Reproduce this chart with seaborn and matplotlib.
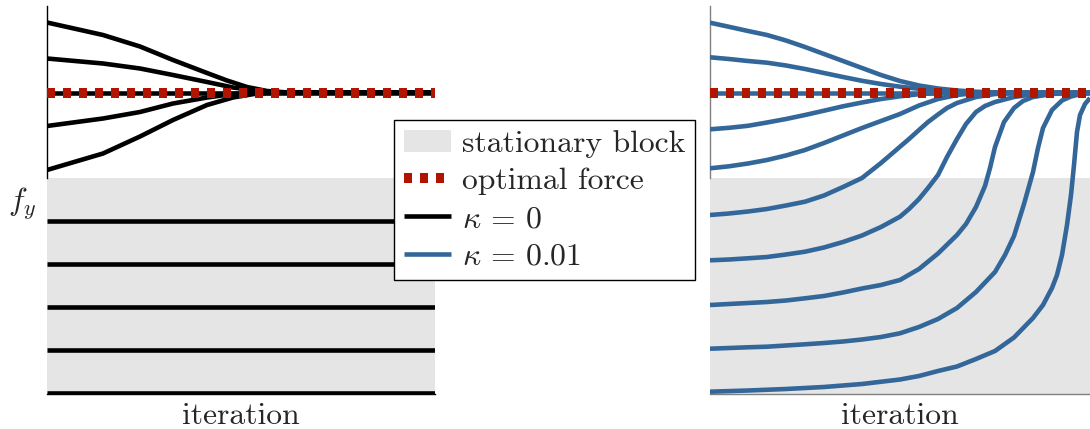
import numpy as np
import pandas as pd
import seaborn as sns
import matplotlib
matplotlib.use("Agg")
import matplotlib.pyplot as plt
from matplotlib.patches import Patch
from matplotlib.lines import Line2D

# ---------------- data (iteration, force) ----------------
optimal_force = 300.5
stationary_limit = 215.0

# left panel: kappa = 0
left_x_end = 388
left_top_x = [
    [0, 56, 93, 126, 160, 180, 200, 220, 240, 388],
    [0, 56, 93, 126, 160, 186, 210, 230, 388],
    [0, 388],
    [0, 56, 93, 126, 160, 186, 210, 230, 388],
    [0, 56, 93, 126, 160, 186, 210, 230, 388],
]
left_top_y = [
    [370.5, 358, 346.5, 333, 320, 312.5, 306, 302, 300.5, 300.5],
    [334.5, 329.5, 324.5, 318, 311, 305.5, 302.5, 300.8, 300.5],
    [300.5, 300.5],
    [267, 274.5, 281, 289.5, 295.5, 299, 300.3, 300.5, 300.5],
    [223, 239.5, 256.5, 273, 288, 295.5, 299.5, 300.5, 300.5],
]
left_stationary_y = [172, 129, 86, 43, 0]

# right panel: kappa = 0.01
right_x_end = 380
g16 = [0, 19, 38, 57, 76, 95, 114, 133, 152, 171, 190, 209, 228, 247, 266, 285]
right_x = [
    g16 + [380],
    g16 + [380],
    [0, 380],
    g16[:14] + [380],
    g16 + [380],
    [0, 19, 38, 57, 76, 95, 114, 133, 152, 171, 190, 199, 209, 218, 228, 237, 247, 266, 285, 304, 323, 380],
    [0, 19, 38, 57, 76, 95, 114, 133, 152, 171, 190, 199, 209, 218, 228, 237, 247, 256, 266, 275, 285, 304, 323, 342, 361, 380],
    [0, 19, 38, 57, 76, 95, 114, 133, 152, 171, 190, 209, 228, 247, 256, 266, 275, 280, 285, 294, 304, 313, 323, 342, 361, 380],
    [0, 19, 38, 57, 76, 95, 114, 133, 152, 171, 190, 209, 228, 247, 266, 285, 295, 304, 314, 323, 328, 333, 342, 352, 361, 371, 380],
    [0, 38, 76, 114, 152, 190, 209, 228, 247, 266, 285, 304, 323, 333, 342, 347, 352, 357, 361, 364, 367, 370, 375, 380],
]
right_y = [
    [370.3, 366.2, 362, 358, 352.5, 346, 339, 332, 325, 318, 312, 307.5, 304.5, 302.5, 301.2, 300.7, 300.5],
    [335.7, 334, 332, 330.3, 327.5, 324, 320, 316, 312.2, 309, 306.3, 304.2, 302.7, 301.5, 300.8, 300.5, 300.5],
    [300.5, 300.5],
    [263.7, 265.2, 267.2, 270.5, 274, 278, 282.3, 286.7, 290.5, 294, 296.7, 298.8, 300, 300.4, 300.5],
    [224.7, 226.7, 229.5, 233, 237.5, 243, 250, 257.5, 265, 272, 279, 287.5, 294, 298, 300, 300.5, 300.5],
    [178, 179.5, 181.5, 184, 187.5, 191.3, 197.5, 206, 215, 230, 246.3, 254, 263, 271, 278.5, 285, 290, 296, 299, 300, 300.5, 300.5],
    [132.7, 133.5, 134.7, 136, 138.5, 141.3, 145.5, 151, 157.5, 166, 176.3, 184, 194, 205, 218, 236, 254, 269, 281, 287, 291, 296, 298.7, 300, 300.5, 300.5],
    [88, 89, 90, 91, 92.5, 94.7, 97, 100.5, 104.5, 108, 113, 124, 139.5, 158, 169, 186, 207, 225, 246, 271, 285, 292, 296, 299, 300.2, 300.5],
    [44.3, 45, 45.7, 46.3, 47.5, 48.7, 50, 51.5, 53.5, 56, 59.7, 66, 74, 85, 101, 121, 138, 157, 189, 221, 245, 265, 283, 292.5, 296.5, 299, 300],
    [1.3, 2.5, 4, 6, 9, 13.5, 17, 22, 26.5, 34, 42, 55.5, 75, 88, 105, 118, 138, 168, 198, 228, 261, 278, 289, 295],
]

legend_labels = ["stationary block", "optimal force", r"$\kappa\,=\,0$", r"$\kappa\,=\,0.01$"]

# ---------------- style ----------------
sns.set_style("white")
plt.rcParams["font.family"] = ["cmr10", "DejaVu Serif"]
plt.rcParams["mathtext.fontset"] = "cm"
plt.rcParams["axes.formatter.use_mathtext"] = True
plt.rcParams["lines.solid_capstyle"] = "butt"
plt.rcParams["lines.solid_joinstyle"] = "round"

BLACK = "#000000"
BLUE = "#33679A"
RED = "#B01500"
SHADE = "#E5E5E5"
LW = 3.3
FS = 22.8

W, H = 1090, 429
fig = plt.figure(figsize=(W / 100, H / 100), dpi=100)
ax1 = fig.add_axes([47 / W, 1 - 394 / H, 388 / W, 388 / H])
ax2 = fig.add_axes([710 / W, 1 - 394 / H, 380 / W, 388 / H])

ylo, yhi = -1, 387


def draw_optimal(ax, xend):
    sns.lineplot(x=[0, xend], y=[optimal_force, optimal_force], ax=ax, color=RED,
                 linewidth=7.2, linestyle=(0, (0.8, 0.8)), estimator=None,
                 sort=False, zorder=6)


# left panel
ax1.axhspan(ylo, stationary_limit, color=SHADE, zorder=0, linewidth=0)
for xs, ys in zip(left_top_x, left_top_y):
    sns.lineplot(x=xs, y=ys, ax=ax1, color=BLACK, linewidth=LW, estimator=None, sort=False, zorder=4)
for yv in left_stationary_y:
    sns.lineplot(x=[0, left_x_end], y=[yv, yv], ax=ax1, color=BLACK, linewidth=LW,
                 estimator=None, sort=False, zorder=4)
draw_optimal(ax1, left_x_end)
ax1.set_xlim(0, left_x_end)

# right panel
ax2.axhspan(ylo, stationary_limit, color=SHADE, zorder=0, linewidth=0)
for xs, ys in zip(right_x, right_y):
    sns.lineplot(x=xs, y=ys, ax=ax2, color=BLUE, linewidth=LW, estimator=None, sort=False, zorder=4)
draw_optimal(ax2, right_x_end)
ax2.set_xlim(0, right_x_end)

for ax, sc in ((ax1, BLACK), (ax2, "#808080")):
    ax.set_ylim(ylo, yhi)
    ax.set_xticks([])
    ax.set_yticks([])
    ax.spines["top"].set_visible(False)
    ax.spines["right"].set_visible(False)
    ax.spines["left"].set_color(sc)
    ax.spines["left"].set_linewidth(1.0)
    ax.spines["left"].set_bounds(stationary_limit, yhi)
    ax.spines["bottom"].set_color(sc)
    ax.spines["bottom"].set_linewidth(1.0)
    ax.set_xlabel("iteration", fontsize=FS, labelpad=6)
    ax.set_ylabel("")
    ax.patch.set_alpha(0)

ax1.set_ylabel(r"$f_y$", fontsize=FS, rotation=0, ha="center", va="center")
ax1.yaxis.set_label_coords(-0.064, 0.49)

handles = [
    Patch(facecolor=SHADE, edgecolor="none"),
    Line2D([], [], color=RED, linewidth=7.2, linestyle=(0, (0.8, 0.8))),
    Line2D([], [], color=BLACK, linewidth=LW),
    Line2D([], [], color=BLUE, linewidth=LW),
]
leg = fig.legend(handles, legend_labels, loc="upper left",
                 bbox_to_anchor=(394 / W, 1 - 120 / H), borderaxespad=0,
                 fontsize=FS, frameon=True, fancybox=False, edgecolor="black",
                 framealpha=1, handlelength=1.5, handletextpad=0.35,
                 labelspacing=0.3, borderpad=0.3)
leg.get_frame().set_linewidth(1.0)

fig.savefig("out.png", dpi=100)
